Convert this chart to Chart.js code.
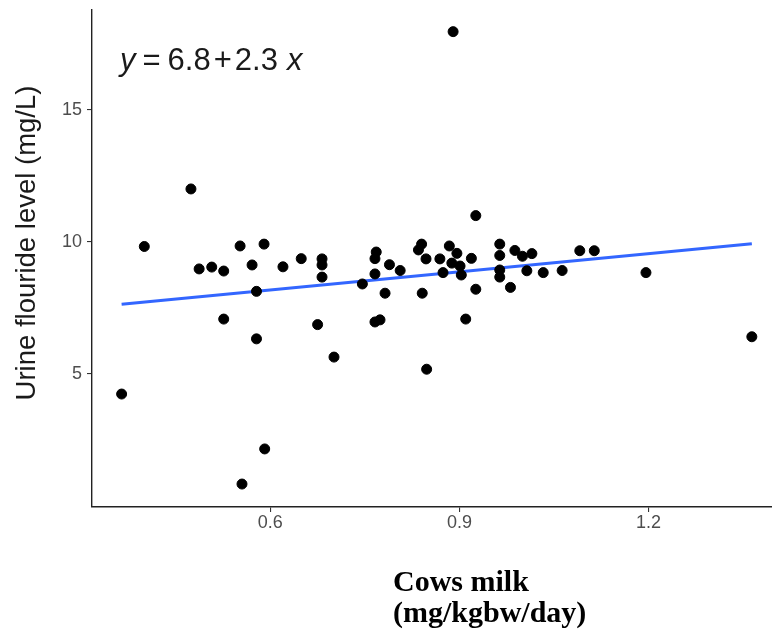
<!DOCTYPE html>
<html>
<head>
<meta charset="utf-8">
<script src="https://cdn.jsdelivr.net/npm/chart.js@4/dist/chart.umd.min.js"></script>
<style>
  html, body { margin: 0; padding: 0; background: #ffffff; }
  canvas { display: block; }
</style>
</head>
<body>
<canvas id="chart" width="772" height="637"></canvas>
<script>
// Cow's milk fluoride intake (mg/kg bw/day) for each participant
const milkIntake = [
  0.364, 0.400, 0.474, 0.487, 0.507, 0.526, 0.526, 0.552, 0.555, 0.571,
  0.578, 0.578, 0.590, 0.591, 0.620, 0.649, 0.675, 0.682, 0.682, 0.682,
  0.701, 0.746, 0.768, 0.766, 0.766, 0.789, 0.806, 0.782, 0.766, 0.774,
  0.840, 0.835, 0.847, 0.841, 0.848, 0.884, 0.869, 0.874, 0.896, 0.888,
  0.901, 0.903, 0.919, 0.926, 0.910, 0.926, 0.890, 0.964, 0.964, 0.964,
  0.964, 0.981, 0.988, 1.000, 1.015, 1.007, 1.033, 1.063, 1.091, 1.114,
  1.196, 1.364
];
// Matching urine fluoride level (mg/L)
const urineFluoride = [
  4.24, 9.83, 12.01, 8.98, 9.05, 8.90, 7.08, 9.85, 0.83, 9.13,
  8.13, 6.33, 9.92, 2.16, 9.06, 9.37, 6.87, 9.36, 9.13, 8.67,
  5.64, 8.41, 9.62, 9.37, 8.79, 9.14, 8.92, 8.06, 6.97, 7.05,
  9.92, 9.70, 9.36, 8.06, 5.18, 9.85, 9.36, 8.84, 9.57, 9.20,
  9.09, 8.75, 9.38, 8.21, 7.08, 11.00, 17.97, 9.92, 9.49, 8.94,
  8.67, 8.28, 9.68, 9.46, 9.56, 8.91, 8.84, 8.92, 9.67, 9.67,
  8.84, 6.41
];
const xTickValues = [0.6, 0.9, 1.2];
const yTickValues = [5, 10, 15];
// Fitted linear model, as printed on the plot
const fitIntercept = 6.8;
const fitSlope = 2.3;

const xAxisTitle = ['Cows milk', '(mg/kgbw/day)'];
const yAxisTitle = 'Urine flouride level (mg/L)';

const points = milkIntake.map((x, i) => ({ x: x, y: urineFluoride[i] }));
const xLo = Math.min(...milkIntake);
const xHi = Math.max(...milkIntake);
const fitLine = [
  { x: xLo, y: fitIntercept + fitSlope * xLo },
  { x: xHi, y: fitIntercept + fitSlope * xHi }
];

const SANS = '"Liberation Sans", Arial, sans-serif';
const SERIF = '"Liberation Serif", "Times New Roman", serif';

// Axis titles and the regression equation drawn on the canvas
const textLayer = {
  id: 'textLayer',
  afterDraw(chart) {
    const ctx = chart.ctx;
    const area = chart.chartArea;
    ctx.save();

    // y axis title
    ctx.save();
    ctx.translate(27, 243);
    ctx.rotate(-Math.PI / 2);
    ctx.font = '27.5px ' + SANS;
    ctx.fillStyle = '#1a1a1a';
    ctx.textAlign = 'center';
    ctx.textBaseline = 'middle';
    ctx.fillText(yAxisTitle, 0, 0);
    ctx.restore();

    // x axis title, two left-aligned lines
    ctx.font = 'bold 30px ' + SERIF;
    ctx.fillStyle = '#000000';
    ctx.textAlign = 'left';
    ctx.textBaseline = 'middle';
    ctx.fillText(xAxisTitle[0], 393, 583);
    ctx.fillText(xAxisTitle[1], 393, 614);

    // regression equation
    const eq = [
      { t: 'y', it: true, gap: 7 },
      { t: '=', it: false, gap: 7 },
      { t: fitIntercept.toFixed(1), it: false, gap: 3 },
      { t: '+', it: false, gap: 3 },
      { t: fitSlope.toFixed(1), it: false, gap: 9 },
      { t: 'x', it: true, gap: 0 }
    ];
    let cx = area.left + 28;
    const cy = 61;
    ctx.fillStyle = '#1a1a1a';
    ctx.textBaseline = 'middle';
    eq.forEach(p => {
      ctx.font = (p.it ? 'italic ' : '') + '31px ' + SANS;
      ctx.fillText(p.t, cx, cy);
      cx += ctx.measureText(p.t).width + p.gap;
    });

    ctx.restore();
  }
};

new Chart(document.getElementById('chart'), {
  type: 'scatter',
  data: {
    datasets: [
      {
        label: 'observations',
        data: points,
        backgroundColor: '#000000',
        borderColor: '#000000',
        pointRadius: 5,
        borderWidth: 1,
        order: 0
      },
      {
        type: 'line',
        label: 'linear fit',
        data: fitLine,
        borderColor: '#3366FF',
        borderWidth: 3,
        pointRadius: 0,
        fill: false,
        order: 1
      }
    ]
  },
  options: {
    responsive: false,
    animation: false,
    devicePixelRatio: 1,
    layout: { autoPadding: false, padding: { top: 10, right: 0, bottom: 0, left: 0 } },
    plugins: {
      legend: { display: false },
      tooltip: { enabled: false }
    },
    scales: {
      x: {
        type: 'linear',
        min: 0.317,
        max: 1.396,
        afterBuildTicks: s => { s.ticks = xTickValues.map(v => ({ value: v })); },
        afterFit: s => { s.height = 130; s.paddingLeft = 0; s.paddingRight = 0; },
        ticks: {
          padding: 0,
          color: '#4d4d4d',
          font: { family: SANS, size: 18 },
          callback: v => Number(v).toFixed(1)
        },
        grid: { drawOnChartArea: false, drawTicks: true, tickLength: 5, color: '#333333', lineWidth: 1.1 },
        border: { display: true, color: '#222222', width: 1.4 }
      },
      y: {
        type: 'linear',
        min: -0.04,
        max: 18.79,
        afterBuildTicks: s => { s.ticks = yTickValues.map(v => ({ value: v })); },
        afterFit: s => { s.width = 92; s.paddingTop = 0; s.paddingBottom = 0; },
        ticks: {
          padding: 5,
          color: '#4d4d4d',
          font: { family: SANS, size: 18 },
          callback: v => String(v)
        },
        grid: { drawOnChartArea: false, drawTicks: true, tickLength: 5, color: '#333333', lineWidth: 1.1 },
        border: { display: true, color: '#222222', width: 1.4 }
      }
    }
  },
  plugins: [textLayer]
});
</script>
</body>
</html>
